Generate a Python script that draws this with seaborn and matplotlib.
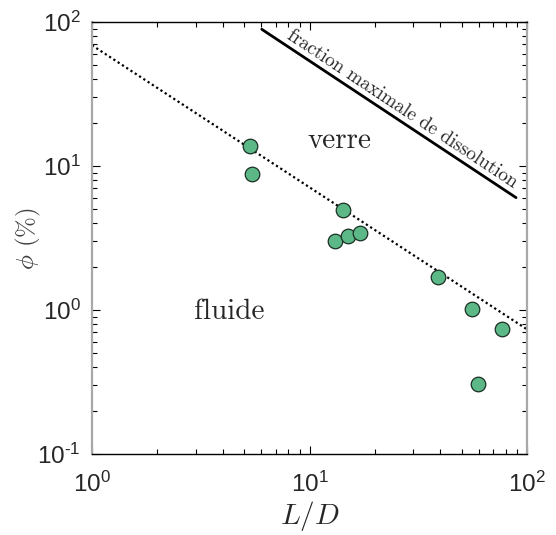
import matplotlib
matplotlib.use("Agg")
import matplotlib.pyplot as plt
import seaborn as sns
import numpy as np
import pandas as pd

# Data
LD = [5.33, 5.44, 14.2, 13.1, 15.0, 17.1, 38.9, 55.7, 76.9, 59.7]
phi = [13.8, 8.8, 4.95, 3.01, 3.27, 3.41, 1.69, 1.01, 0.738, 0.308]
fit_x = [1.0, 100.0]
fit_y = [68.9, 0.734]
max_x = [6.03, 89.0]
max_y = [89.0, 6.03]
xtick_vals = [1, 10, 100]
ytick_vals = [0.1, 1, 10, 100]
xtick_labels = [r"$\mathregular{10^{0}}$", r"$\mathregular{10^{1}}$", r"$\mathregular{10^{2}}$"]
ytick_labels = ["$\\mathregular{10^{\u20101}}$", r"$\mathregular{10^{0}}$", r"$\mathregular{10^{1}}$", r"$\mathregular{10^{2}}$"]

sns.set_theme(style="white")
plt.rcParams['font.family'] = ['Liberation Sans', 'DejaVu Sans']
plt.rcParams['mathtext.fontset'] = 'cm'
plt.rcParams['mathtext.default'] = 'it'

fig = plt.figure(figsize=(5.56, 5.35), dpi=100)
ax = fig.add_axes([0.1655, 0.1514, 0.7824, 0.8075])

df = pd.DataFrame({"LD": LD, "phi": phi})
fit = pd.DataFrame({"x": fit_x, "y": fit_y})
mx = pd.DataFrame({"x": max_x, "y": max_y})

sns.lineplot(data=fit, x="x", y="y", ax=ax, color="black", linestyle=(0, (1, 1.3)), linewidth=1.6)
sns.lineplot(data=mx, x="x", y="y", ax=ax, color="black", linewidth=2.0)
sns.scatterplot(data=df, x="LD", y="phi", ax=ax, s=110, color="#5cb887",
                edgecolor="#1a2e22", linewidth=0.9, zorder=5)

ax.set_xscale("log")
ax.set_yscale("log")
ax.set_xlim(1, 100)
ax.set_ylim(0.1, 100)

ax.set_xticks(xtick_vals)
ax.set_yticks(ytick_vals)
ax.set_xticklabels(xtick_labels)
ax.set_yticklabels(ytick_labels)

ax.tick_params(which="both", direction="in", top=True, right=True, bottom=True, left=True,
               colors="black", labelcolor="#262626")
ax.tick_params(which="major", length=6, width=0.8, labelsize=17.5)
ax.tick_params(axis="x", which="major", pad=13)
ax.tick_params(axis="y", which="major", pad=8)
ax.tick_params(which="minor", length=3.5, width=0.8)

for side in ["top", "bottom"]:
    ax.spines[side].set_color("black")
    ax.spines[side].set_linewidth(1.0)
for side in ["left", "right"]:
    ax.spines[side].set_color("#a8a8a8")
    ax.spines[side].set_linewidth(1.6)

ax.set_xlabel(r"$L/D$", fontsize=21, color="#262626")
ax.xaxis.set_label_coords(0.5, -0.143, transform=ax.transAxes)
ax.xaxis.label.set_va("center")
ax.set_ylabel(r"$\phi$ (%)", fontsize=18, color="#404040", family="cmr10")
ax.yaxis.set_label_coords(-0.147, 0.498, transform=ax.transAxes)
ax.yaxis.label.set_va("center")

ax.text(13.8, 14.9, "verre", fontsize=21, family="cmr10", ha="center", va="center")
ax.text(4.26, 0.97, "fluide", fontsize=21, family="cmr10", ha="center", va="center")
ax.text(26.6, 25, "fraction maximale de dissolution", fontsize=13.8, family="cmr10",
        ha="center", va="center", rotation=-33.5, rotation_mode="anchor")

fig.savefig("out.png", dpi=100)
